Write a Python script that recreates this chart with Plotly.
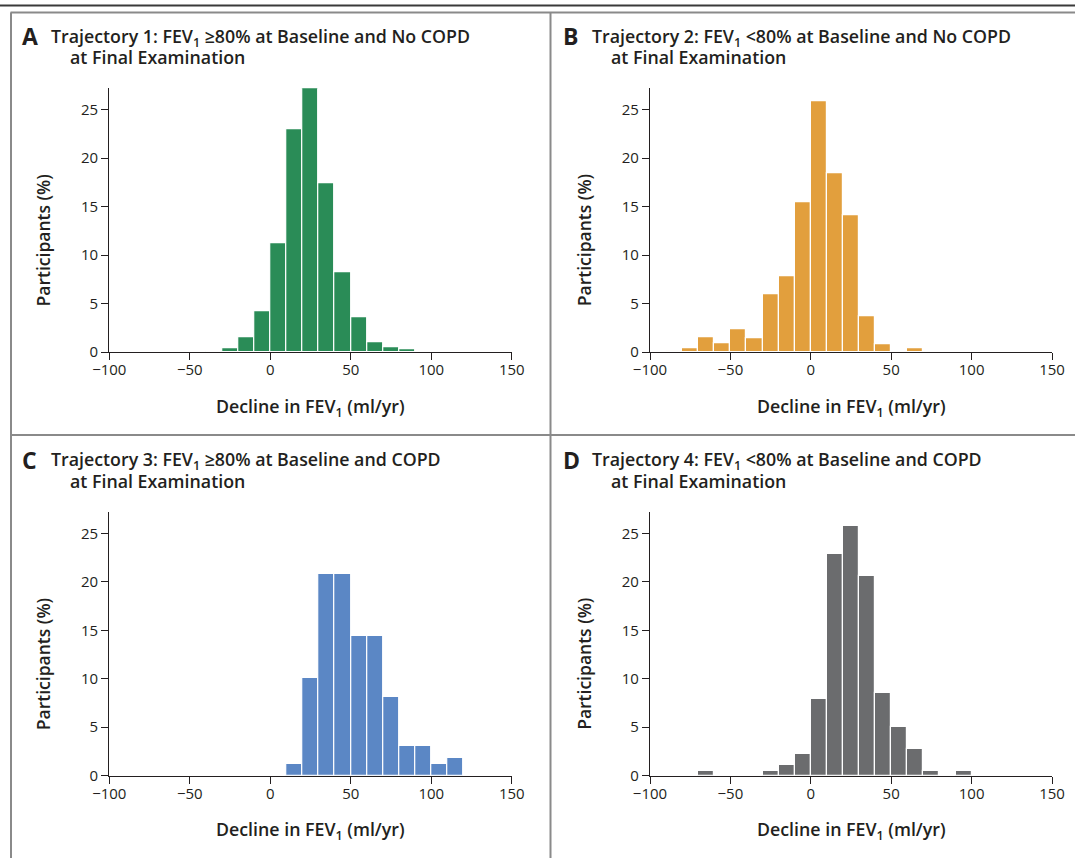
import plotly.graph_objects as go

W, H = 1075, 858

# Bin left edges (ml/yr) and percentages for each trajectory (10 ml/yr bins)
bins_a = [-40, -30, -20, -10, 0, 10, 20, 30, 40, 50, 60, 70, 80]
vals_a = [0.1, 0.4, 1.5, 4.2, 11.2, 23.0, 27.3, 17.4, 8.2, 3.6, 1.0, 0.5, 0.25]

bins_b = [-90, -80, -70, -60, -50, -40, -30, -20, -10, 0, 10, 20, 30, 40, 60]
vals_b = [0.1, 0.35, 1.55, 0.93, 2.37, 1.38, 5.92, 7.78, 15.46, 25.9, 18.4, 14.05, 3.65, 0.76, 0.35]

bins_c = [10, 20, 30, 40, 50, 60, 70, 80, 90, 100, 110]
vals_c = [1.17, 10.05, 20.8, 20.8, 14.46, 14.46, 8.13, 3.06, 3.06, 1.17, 1.79]

bins_d = [-70, -30, -20, -10, 0, 10, 20, 30, 40, 50, 60, 70, 90]
vals_d = [0.48, 0.48, 1.07, 2.2, 7.94, 22.9, 25.8, 20.6, 8.53, 5.05, 2.75, 0.48, 0.48]

letters = ["A", "B", "C", "D"]
titles_1 = [
    "Trajectory 1: FEV<sub>1</sub> ≥80% at Baseline and No COPD",
    "Trajectory 2: FEV<sub>1</sub> <80% at Baseline and No COPD",
    "Trajectory 3: FEV<sub>1</sub> ≥80% at Baseline and COPD",
    "Trajectory 4: FEV<sub>1</sub> <80% at Baseline and COPD",
]
title_2 = "at Final Examination"
x_title = "Decline in FEV<sub>1</sub> (ml/yr)"
y_title = "Participants (%)"
x_ticks = [-100, -50, 0, 50, 100, 150]
y_ticks = [0, 5, 10, 15, 20, 25]

colors = ["#2A8C57", "#E29F3D", "#5B87C5", "#6B6C6E"]
BIN_W = 10

FONT = "Open Sans"
INK = "#231F20"


def px_x(p):
    return p / W


def px_y(p):
    return 1 - p / H


# panel geometry in pixels: (x_left, x_right, y_top, y_bottom)
geo = [
    (109.3, 511.8, 88.3, 352.0),
    (650.0, 1052.0, 88.3, 352.0),
    (109.3, 511.8, 512.0, 775.7),
    (650.0, 1052.0, 512.0, 775.7),
]
y_top_val = 27.2

fig = go.Figure()
data = [(bins_a, vals_a), (bins_b, vals_b), (bins_c, vals_c), (bins_d, vals_d)]

for i, (bins, vals) in enumerate(data):
    n = i + 1
    xa = "x" if n == 1 else f"x{n}"
    ya = "y" if n == 1 else f"y{n}"
    fig.add_trace(go.Bar(
        x=[b + BIN_W / 2 for b in bins], y=vals, width=BIN_W,
        marker=dict(color=colors[i], line=dict(color="white", width=1.2)),
        xaxis=xa, yaxis=ya, showlegend=False, hoverinfo="x+y",
    ))
    xl, xr, yt, yb = geo[i]
    axis_common = dict(
        showline=True, linecolor=INK, linewidth=1.3, ticks="outside",
        tickcolor=INK, tickwidth=1.3, showgrid=False, zeroline=False,
        automargin=False,
        tickfont=dict(family=FONT, size=15, color=INK),
    )
    fig.update_layout(**{
        ("xaxis" if n == 1 else f"xaxis{n}"): dict(
            domain=[px_x(xl), px_x(xr)], anchor=ya, range=[-100, 150],
            tickvals=x_ticks, ticklen=7, ticklabelstandoff=-3, **axis_common),
        ("yaxis" if n == 1 else f"yaxis{n}"): dict(
            domain=[px_y(yb), px_y(yt)], anchor=xa, range=[0, y_top_val],
            tickvals=y_ticks, ticklen=7, **axis_common),
    })

    # titles
    ox = 0 if i % 2 == 0 else 541
    oy = 0 if i < 2 else 424
    fig.add_annotation(x=px_x(20 + ox), y=px_y(36 + oy), xref="paper", yref="paper",
                       text="<b>" + letters[i] + "</b>", showarrow=False,
                       xanchor="left", yanchor="middle",
                       font=dict(family=FONT, size=23, color=INK, weight=600))
    fig.add_annotation(x=px_x(49 + ox), y=px_y(37 + oy), xref="paper", yref="paper",
                       text=titles_1[i], showarrow=False,
                       xanchor="left", yanchor="middle",
                       font=dict(family=FONT, size=17.8, color=INK, weight=600))
    fig.add_annotation(x=px_x(68 + ox), y=px_y(56.5 + oy), xref="paper", yref="paper",
                       text=title_2, showarrow=False,
                       xanchor="left", yanchor="middle",
                       font=dict(family=FONT, size=17.8, color=INK, weight=600))
    # axis titles
    fig.add_annotation(x=px_x((xl + xr) / 2), y=px_y(yb + 55), xref="paper", yref="paper",
                       text=x_title, showarrow=False,
                       xanchor="center", yanchor="middle",
                       font=dict(family=FONT, size=17.8, color=INK, weight=600))
    fig.add_annotation(x=px_x(xl - 66), y=px_y((yt + yb) / 2 + 20), xref="paper", yref="paper",
                       text=y_title, showarrow=False, textangle=-90,
                       xanchor="center", yanchor="middle",
                       font=dict(family=FONT, size=17.5, color=INK, weight=600))

# frame lines
shapes = [
    dict(type="line", xref="paper", yref="paper", x0=0, x1=1, y0=px_y(5.5), y1=px_y(5.5),
         line=dict(color="#3a3a3a", width=2)),
    dict(type="line", xref="paper", yref="paper", x0=px_x(10.5), x1=1, y0=px_y(12.5), y1=px_y(12.5),
         line=dict(color="#8a8a8a", width=2)),
    dict(type="line", xref="paper", yref="paper", x0=px_x(11), x1=px_x(11), y0=px_y(12.5), y1=0,
         line=dict(color="#8a8a8a", width=2)),
    dict(type="line", xref="paper", yref="paper", x0=px_x(550.5), x1=px_x(550.5), y0=px_y(12.5), y1=0,
         line=dict(color="#8a8a8a", width=2)),
    dict(type="line", xref="paper", yref="paper", x0=px_x(11), x1=1, y0=px_y(435), y1=px_y(435),
         line=dict(color="#8a8a8a", width=2)),
]

fig.update_layout(
    width=W, height=H, margin=dict(l=0, r=0, t=0, b=0, pad=0, autoexpand=False),
    paper_bgcolor="white", plot_bgcolor="white", bargap=0,
    shapes=shapes, font=dict(family=FONT, color=INK),
)

fig.write_html(
    "out.html",
    config={"displayModeBar": False},
    post_script="document.body.style.margin='0';document.body.style.overflow='hidden';"
                "document.documentElement.style.overflow='hidden';",
)
